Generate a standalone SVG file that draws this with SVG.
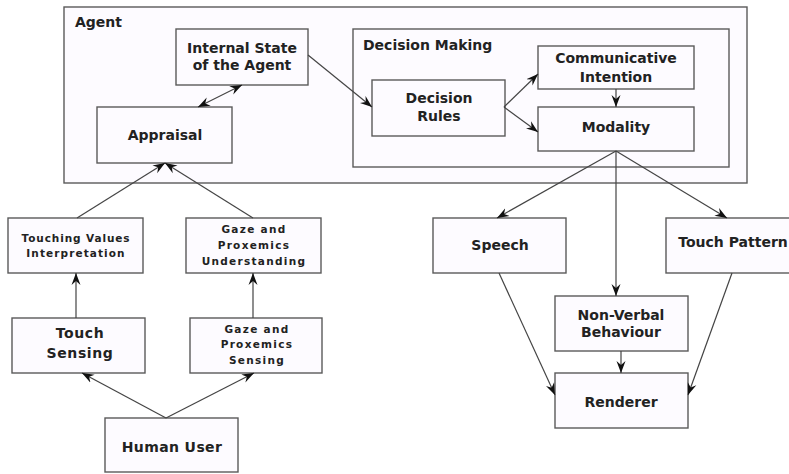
<svg xmlns="http://www.w3.org/2000/svg" width="789" height="474" viewBox="0 0 789 474">
<style>
.box{fill:#fdfbff;stroke:#5a5a5a;stroke-width:1.4}
.t{font-family:"DejaVu Sans",sans-serif;font-weight:bold;font-size:14px;fill:#222;text-anchor:middle}
.tl{font-family:"DejaVu Sans",sans-serif;font-weight:bold;font-size:14px;fill:#222}
.s{font-family:"DejaVu Sans",sans-serif;font-weight:bold;font-size:10.5px;fill:#222;text-anchor:middle}
.c{fill:none;stroke:#444;stroke-width:1.2}
</style>
<defs>
<marker id="ah" viewBox="-12 -5 13 10" refX="0" refY="0" markerWidth="13" markerHeight="10" markerUnits="userSpaceOnUse" orient="auto-start-reverse">
<path d="M0,0 L-12,-4.5 L-8,0 L-12,4.5 Z" fill="#111"/>
</marker>
</defs>
<rect width="789" height="474" fill="#ffffff"/>
<g id="agent"><rect class="box" x="64" y="7" width="683" height="176"/><text class="tl" x="75" y="27">Agent</text></g>
<g id="decision-making"><rect class="box" x="353" y="29" width="376" height="138"/><text class="tl" x="363" y="50">Decision Making</text></g>
<g id="internal-state"><rect class="box" x="176" y="29" width="132" height="56"/><text class="t" x="242" y="53">Internal State</text><text class="t" x="242" y="70">of the Agent</text></g>
<g id="appraisal"><rect class="box" x="97" y="107" width="135" height="56"/><text class="t" x="165" y="140">Appraisal</text></g>
<g id="decision-rules"><rect class="box" x="372" y="80" width="133" height="56"/><text class="t" x="439" y="103">Decision</text><text class="t" x="439" y="121">Rules</text></g>
<g id="communicative-intention"><rect class="box" x="538" y="46" width="156" height="43"/><text class="t" x="616" y="63">Communicative</text><text class="t" x="616" y="82">Intention</text></g>
<g id="modality"><rect class="box" x="538" y="107" width="156" height="44"/><text class="t" x="616" y="132">Modality</text></g>
<g id="touching-values"><rect class="box" x="8" y="218" width="135" height="55"/><text class="s" x="76" y="242" letter-spacing="0.9">Touching Values</text><text class="s" x="76" y="257" letter-spacing="1.1">Interpretation</text></g>
<g id="gaze-understanding"><rect class="box" x="186" y="218" width="135" height="55"/><text class="s" x="254" y="233" letter-spacing="1.3">Gaze and</text><text class="s" x="254" y="249" letter-spacing="1.3">Proxemics</text><text class="s" x="254" y="265" letter-spacing="1.3">Understanding</text></g>
<g id="touch-sensing"><rect class="box" x="12" y="318" width="133" height="55"/><text class="t" x="80" y="338" letter-spacing="0.6">Touch</text><text class="t" x="80" y="358" letter-spacing="0.6">Sensing</text></g>
<g id="gaze-sensing"><rect class="box" x="190" y="318" width="132" height="55"/><text class="s" x="257" y="333" letter-spacing="1.3">Gaze and</text><text class="s" x="257" y="348" letter-spacing="1.3">Proxemics</text><text class="s" x="257" y="364" letter-spacing="1.3">Sensing</text></g>
<g id="human-user"><rect class="box" x="105" y="418" width="133" height="54"/><text class="t" x="172" y="452" letter-spacing="0.4">Human User</text></g>
<g id="speech"><rect class="box" x="433" y="218" width="133" height="55"/><text class="t" x="500" y="250">Speech</text></g>
<g id="touch-pattern"><rect class="box" x="666" y="218" width="133" height="55"/><text class="t" x="733" y="247">Touch Pattern</text></g>
<g id="non-verbal"><rect class="box" x="555" y="296" width="133" height="55"/><text class="t" x="621" y="320">Non-Verbal</text><text class="t" x="621" y="337">Behaviour</text></g>
<g id="renderer"><rect class="box" x="555" y="373" width="133" height="55"/><text class="t" x="621" y="407">Renderer</text></g>
<g id="connectors">
<line class="c" x1="242" y1="85" x2="198" y2="107" marker-start="url(#ah)" marker-end="url(#ah)"/>
<line class="c" x1="308" y1="55" x2="372" y2="107" marker-end="url(#ah)"/>
<line class="c" x1="504" y1="107" x2="538" y2="74" marker-end="url(#ah)"/>
<line class="c" x1="504" y1="107" x2="538" y2="132" marker-end="url(#ah)"/>
<line class="c" x1="616" y1="89" x2="616" y2="107" marker-end="url(#ah)"/>
<line class="c" x1="77" y1="218" x2="165" y2="163" marker-end="url(#ah)"/>
<line class="c" x1="253" y1="218" x2="165" y2="163" marker-end="url(#ah)"/>
<line class="c" x1="76" y1="318" x2="76" y2="273" marker-end="url(#ah)"/>
<line class="c" x1="253" y1="318" x2="253" y2="273" marker-end="url(#ah)"/>
<line class="c" x1="166" y1="418" x2="82" y2="373" marker-end="url(#ah)"/>
<line class="c" x1="166" y1="418" x2="254" y2="373" marker-end="url(#ah)"/>
<line class="c" x1="616" y1="151" x2="497" y2="218" marker-end="url(#ah)"/>
<line class="c" x1="616" y1="151" x2="616" y2="296" marker-end="url(#ah)"/>
<line class="c" x1="616" y1="151" x2="727" y2="218" marker-end="url(#ah)"/>
<line class="c" x1="499" y1="273" x2="555" y2="395" marker-end="url(#ah)"/>
<line class="c" x1="732" y1="273" x2="688" y2="395" marker-end="url(#ah)"/>
<line class="c" x1="621" y1="351" x2="621" y2="373" marker-end="url(#ah)"/>
</g>
</svg>
